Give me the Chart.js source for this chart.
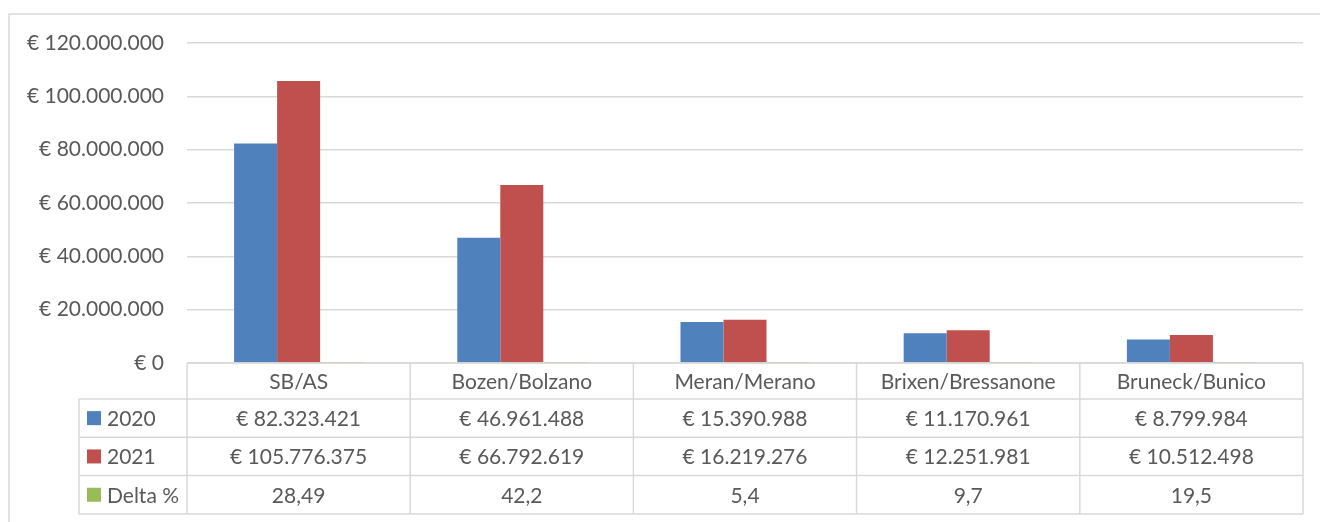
<!DOCTYPE html>
<html lang="it">
<head>
<meta charset="utf-8">
<title>Umsatz 2020 / 2021</title>
<script src="https://cdn.jsdelivr.net/npm/chart.js@4"></script>
<style>
    html, body { margin: 0; padding: 0; background: #ffffff; }
    #wrap { width: 1320px; height: 522px; }
</style>
</head>
<body>
<div id="wrap"><canvas id="chartCanvas" width="1320" height="522"></canvas></div>
<script>
    // Données
    const categories = ['SB/AS', 'Bozen/Bolzano', 'Meran/Merano', 'Brixen/Bressanone', 'Bruneck/Bunico'];
    const values2020 = [82323421, 46961488, 15390988, 11170961, 8799984];
    const values2021 = [105776375, 66792619, 16219276, 12251981, 10512498];
    const deltaPct = [28.49, 42.2, 5.4, 9.7, 19.5];
    const yTicks = [0, 20000000, 40000000, 60000000, 80000000, 100000000, 120000000];

    const textColor = '#595959';
    const lineColor = '#d9d9d9';
    const fontFamily = 'Lato, "Open Sans", sans-serif';
    const fontSize = 21;

    // Format "€ 1.234.567"
    function euro(v) {
        return '€ ' + String(Math.round(v)).replace(/\B(?=(\d{3})+(?!\d))/g, '.');
    }

    function pct(v) {
        return String(v).replace('.', ',');
    }

    // Tableau de données sous le graphique (comme dans Excel)
    const dataTablePlugin = {
        id: 'dataTable',
        beforeDraw(chart) {
            const ctx = chart.ctx;
            ctx.save();
            ctx.strokeStyle = lineColor;
            ctx.lineWidth = 1.5;
            ctx.strokeRect(9, 14, chart.width + 20, chart.height + 20);
            ctx.restore();
        },
        afterDraw(chart) {
            const ctx = chart.ctx;
            const area = chart.chartArea;
            const xScale = chart.scales.x;
            const colW = area.width / categories.length;
            const headerH = 36;
            const rowH = 38.3;
            const legendLeft = 79;
            const top = area.bottom;
            const rowsTop = top + headerH;
            const bottom = rowsTop + rowH * 3;

            const rows = [
                { label: '2020', color: chart.data.datasets[0].backgroundColor, cells: values2020.map(euro) },
                { label: '2021', color: chart.data.datasets[1].backgroundColor, cells: values2021.map(euro) },
                { label: 'Delta %', color: chart.data.datasets[2].backgroundColor, cells: deltaPct.map(pct) }
            ];

            ctx.save();
            ctx.strokeStyle = lineColor;
            ctx.lineWidth = 1.5;
            ctx.beginPath();
            // lignes horizontales
            ctx.moveTo(area.left, top);
            ctx.lineTo(area.right, top);
            for (let r = 0; r <= 3; r++) {
                const y = rowsTop + r * rowH;
                ctx.moveTo(legendLeft, y);
                ctx.lineTo(area.right, y);
            }
            // lignes verticales
            ctx.moveTo(legendLeft, rowsTop);
            ctx.lineTo(legendLeft, bottom);
            for (let i = 0; i <= categories.length; i++) {
                const x = area.left + i * colW;
                ctx.moveTo(x, top);
                ctx.lineTo(x, bottom);
            }
            ctx.stroke();

            ctx.font = fontSize + 'px ' + fontFamily;
            ctx.fillStyle = textColor;
            ctx.textBaseline = 'middle';
            ctx.textAlign = 'center';

            // en-têtes
            categories.forEach((c, i) => {
                ctx.fillText(c, xScale.getPixelForValue(i), top + headerH / 2 + 1);
            });

            // lignes de séries
            rows.forEach((row, r) => {
                const yMid = rowsTop + r * rowH + rowH / 2 + 1;
                ctx.fillStyle = row.color;
                ctx.fillRect(87, yMid - 8, 14, 14);
                ctx.fillStyle = textColor;
                ctx.textAlign = 'left';
                ctx.fillText(row.label, 107, yMid);
                ctx.textAlign = 'center';
                row.cells.forEach((txt, i) => {
                    ctx.fillText(txt, xScale.getPixelForValue(i), yMid);
                });
            });
            ctx.restore();
        }
    };

    const chartCanvas = document.getElementById('chartCanvas');

    const myChart = new Chart(chartCanvas, {
        type: 'bar',
        data: {
            labels: categories,
            datasets: [
                { label: '2020', data: values2020, backgroundColor: '#4f81bd' },
                { label: '2021', data: values2021, backgroundColor: '#c0504d' },
                { label: 'Delta %', data: deltaPct, backgroundColor: '#9bbb59' }
            ]
        },
        options: {
            responsive: false,
            animation: false,
            devicePixelRatio: 1,
            categoryPercentage: 0.578,
            barPercentage: 1,
            layout: {
                padding: { top: 43, bottom: 159, left: 0, right: 17 }
            },
            plugins: {
                legend: { display: false },
                tooltip: { enabled: false }
            },
            scales: {
                x: {
                    display: false
                },
                y: {
                    min: 0,
                    max: 120000000,
                    afterFit(scale) {
                        scale.width = 187;
                    },
                    afterBuildTicks(scale) {
                        scale.ticks = yTicks.map(v => ({ value: v }));
                    },
                    border: { display: false },
                    grid: {
                        color: lineColor,
                        lineWidth: 1.5,
                        drawTicks: false
                    },
                    ticks: {
                        padding: 23,
                        color: textColor,
                        font: { family: fontFamily, size: fontSize },
                        callback: v => euro(v)
                    }
                }
            }
        },
        plugins: [dataTablePlugin]
    });
</script>
</body>
</html>
